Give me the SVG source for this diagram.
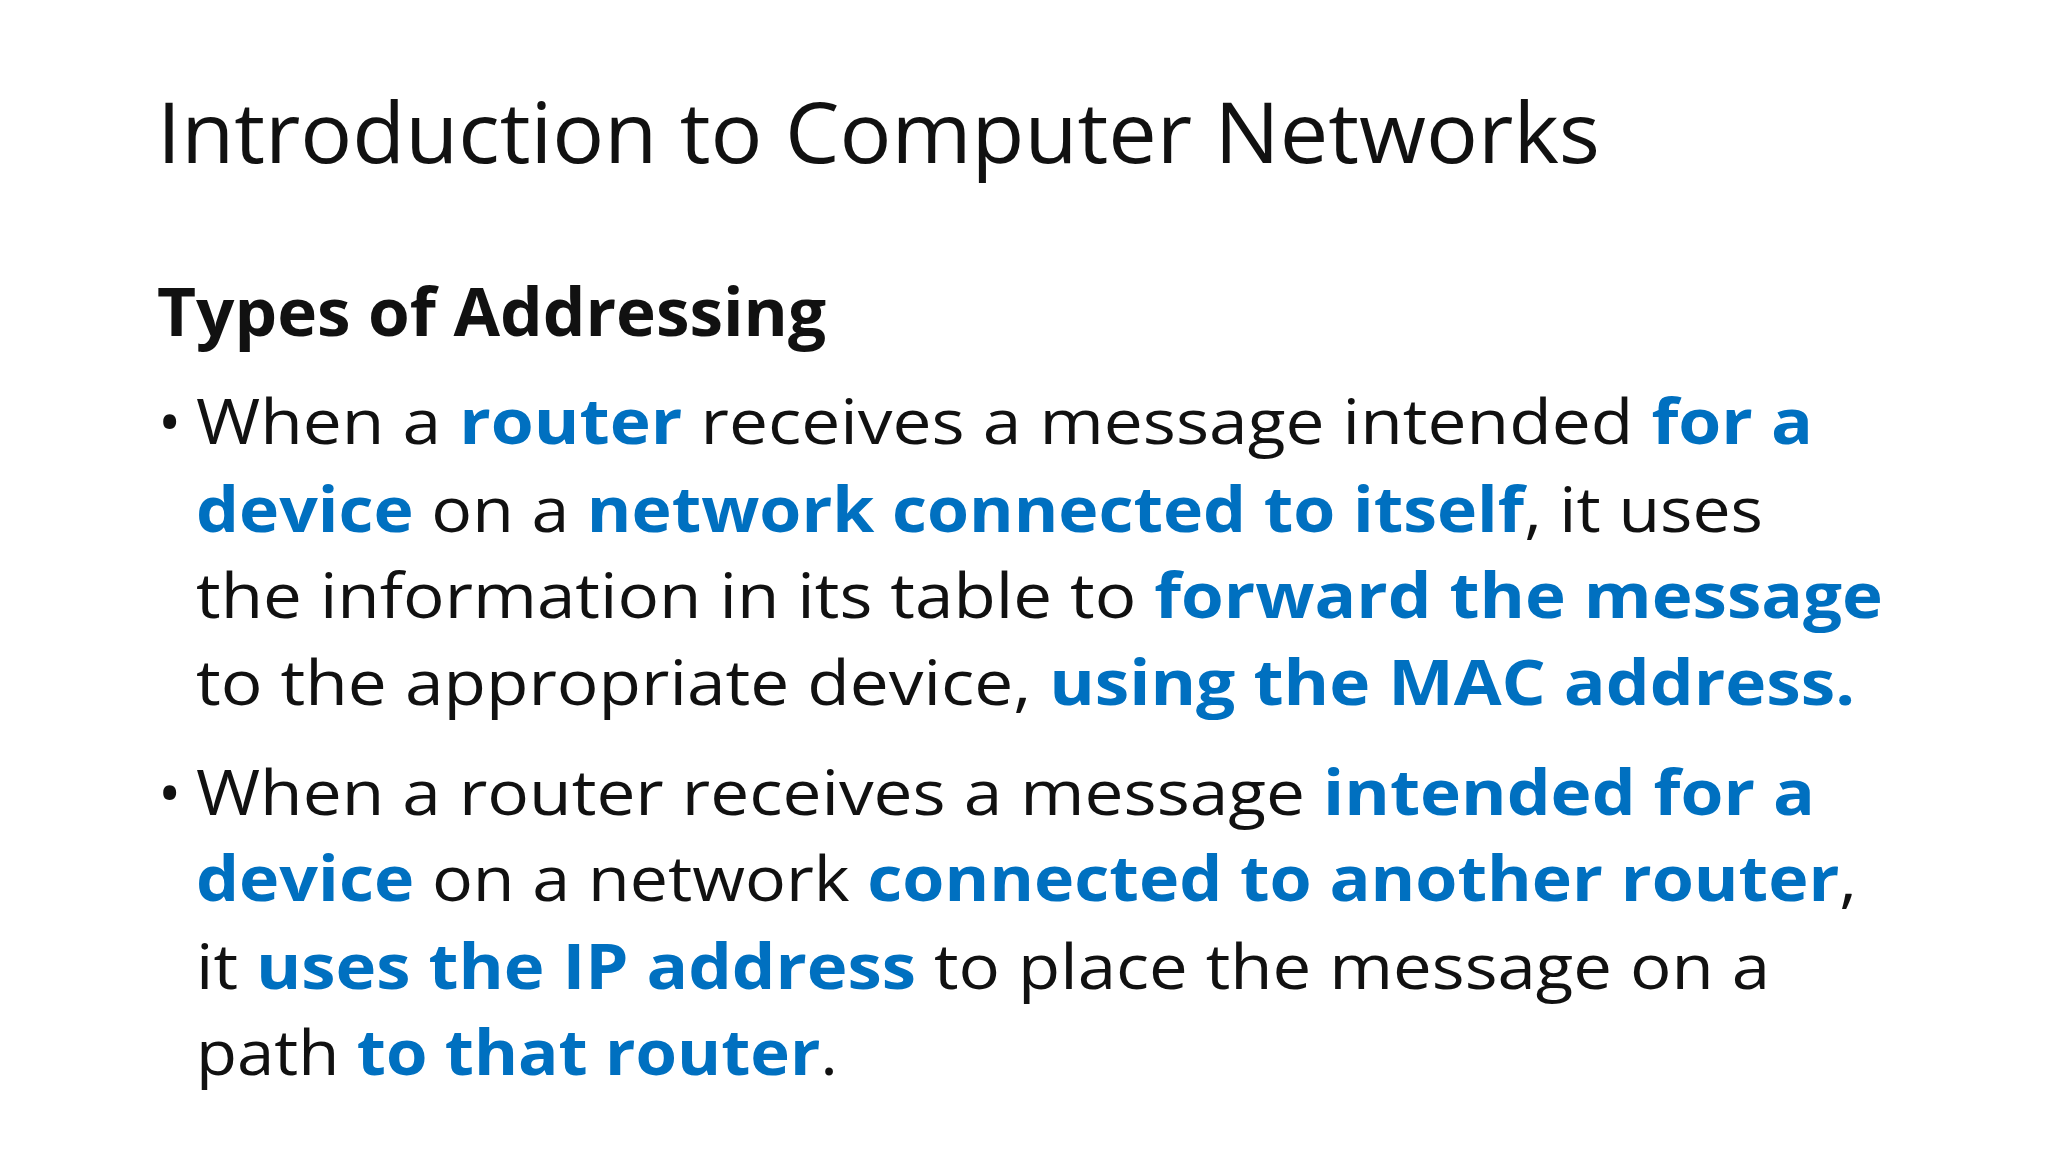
<svg xmlns="http://www.w3.org/2000/svg" width="2048" height="1152" viewBox="0 0 2048 1152">
<style>
text{font-family:"Open Sans","Liberation Sans",sans-serif;fill:#111}
.t{font-size:84px}
.h{font-size:66px;font-weight:bold}
.b{font-size:62px}
.k{fill:#0070C0;font-weight:bold}
</style>
<rect width="2048" height="1152" fill="#fff"/>
<g id="title"><text class="t" x="157" y="163" textLength="1443" lengthAdjust="spacingAndGlyphs">Introduction to Computer Networks</text></g>
<g id="heading"><text class="h" x="157" y="336" textLength="669" lengthAdjust="spacingAndGlyphs">Types of Addressing</text></g>
<g id="bullet1">
<text class="b" x="158" y="444">•</text>
<text class="b" x="196" y="444" textLength="1617" lengthAdjust="spacingAndGlyphs">When a <tspan class="k">router</tspan> receives a message intended <tspan class="k">for a</tspan></text>
<text class="b" x="196" y="532" textLength="1567" lengthAdjust="spacingAndGlyphs"><tspan class="k">device</tspan> on a <tspan class="k">network connected to itself</tspan>, it uses</text>
<text class="b" x="196" y="618" textLength="1687" lengthAdjust="spacingAndGlyphs">the information in its table to <tspan class="k">forward the message</tspan></text>
<text class="b" x="196" y="705" textLength="1659" lengthAdjust="spacingAndGlyphs">to the appropriate device, <tspan class="k">using the MAC address.</tspan></text>
</g>
<g id="bullet2">
<text class="b" x="158" y="815">•</text>
<text class="b" x="196" y="815" textLength="1619" lengthAdjust="spacingAndGlyphs">When a router receives a message <tspan class="k">intended for a</tspan></text>
<text class="b" x="196" y="901" textLength="1661" lengthAdjust="spacingAndGlyphs"><tspan class="k">device</tspan> on a network <tspan class="k">connected to another router</tspan>,</text>
<text class="b" x="196" y="989" textLength="1574" lengthAdjust="spacingAndGlyphs">it <tspan class="k">uses the IP address</tspan> to place the message on a</text>
<text class="b" x="196" y="1075" textLength="642" lengthAdjust="spacingAndGlyphs">path <tspan class="k">to that router</tspan>.</text>
</g>
</svg>
